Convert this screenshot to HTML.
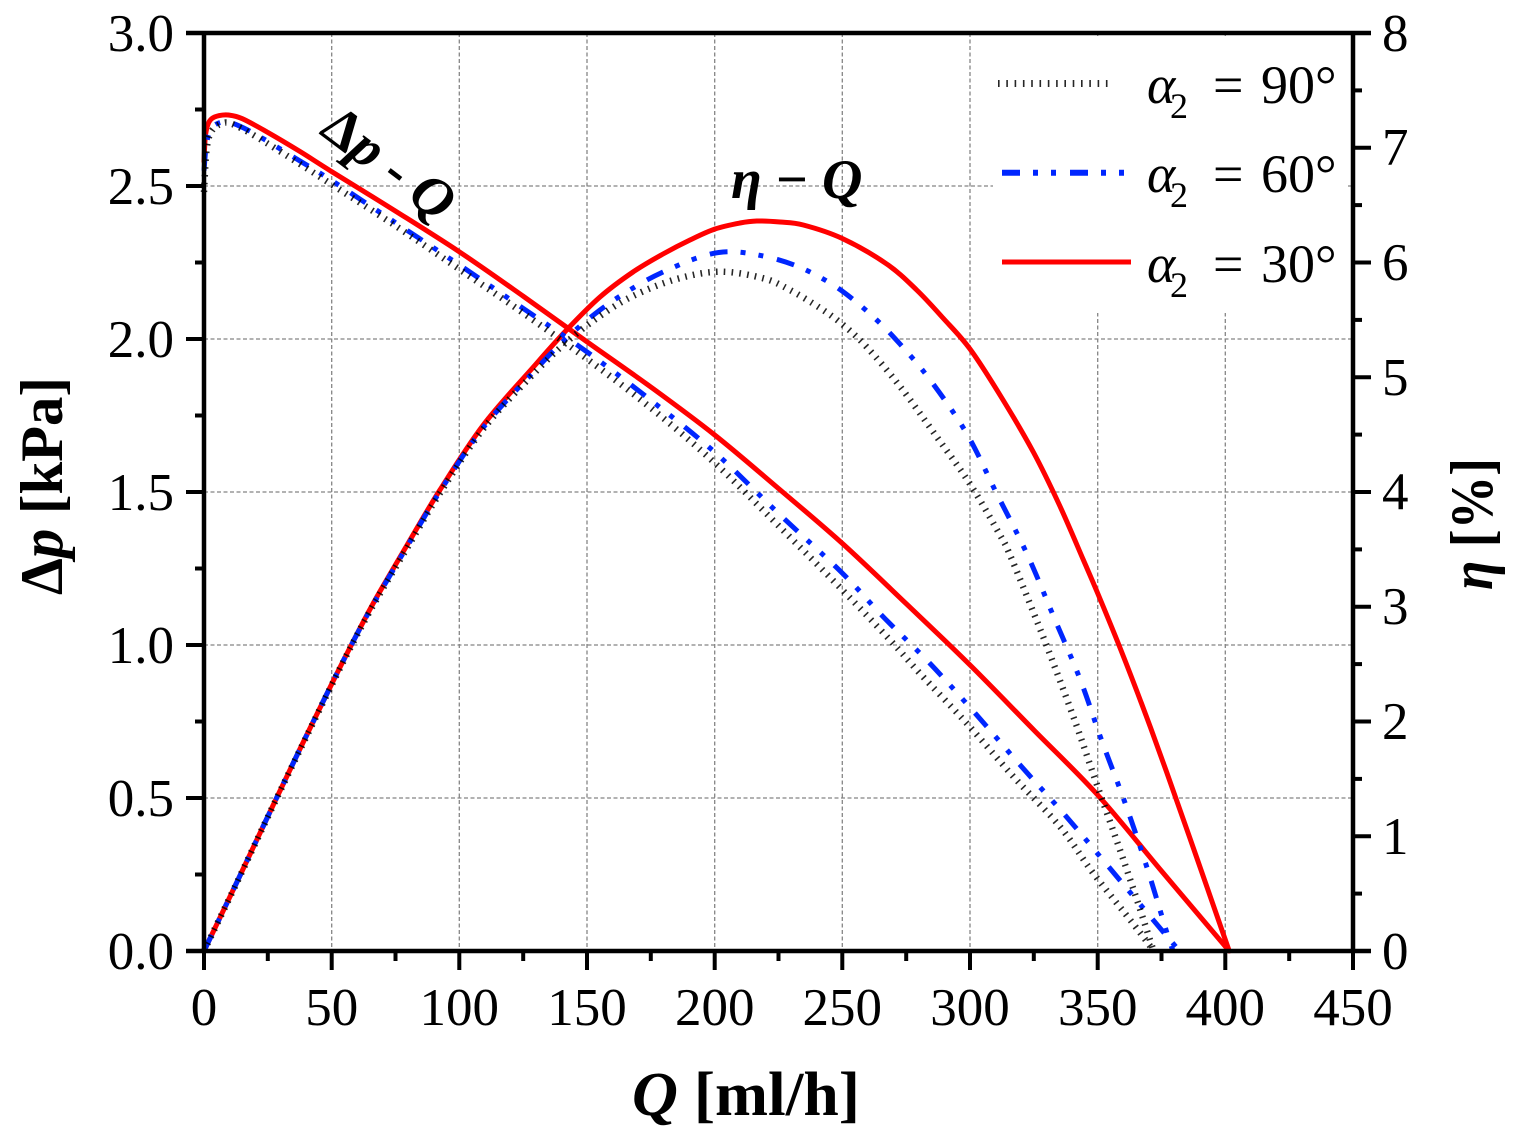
<!DOCTYPE html>
<html>
<head>
<meta charset="utf-8">
<style>
  html, body { margin: 0; padding: 0; background: #ffffff; }
  svg { display: block; }
  text { font-family: "Liberation Serif", "DejaVu Serif", serif; fill: #000; }
</style>
</head>
<body>
<svg width="1520" height="1136" viewBox="0 0 1520 1136" xmlns="http://www.w3.org/2000/svg">
  <rect x="0" y="0" width="1520" height="1136" fill="#ffffff"/>

  <g stroke="#858585" stroke-width="1.3" stroke-dasharray="4 2.5" fill="none">
    <line x1="331.7" y1="33" x2="331.7" y2="951"/>
    <line x1="459.3" y1="33" x2="459.3" y2="951"/>
    <line x1="587" y1="33" x2="587" y2="951"/>
    <line x1="714.7" y1="33" x2="714.7" y2="951"/>
    <line x1="842.3" y1="33" x2="842.3" y2="951"/>
    <line x1="970" y1="33" x2="970" y2="951"/>
    <line x1="1097.7" y1="33" x2="1097.7" y2="951"/>
    <line x1="1225.3" y1="33" x2="1225.3" y2="951"/>
    <line x1="204" y1="186" x2="1353" y2="186"/>
    <line x1="204" y1="339" x2="1353" y2="339"/>
    <line x1="204" y1="492" x2="1353" y2="492"/>
    <line x1="204" y1="645" x2="1353" y2="645"/>
    <line x1="204" y1="798" x2="1353" y2="798"/>
  </g>

  <rect x="993" y="36" width="355" height="277" fill="#ffffff"/>

  <g fill="none" stroke="#ff0000" stroke-width="5" stroke-linejoin="round" stroke-linecap="round">
    <polyline class="s" points="204,161.5 205.3,137 207.8,124.8 211.7,118.7 219.3,115.6 228.3,115 242.3,118.7 267.8,132.4 300,151.5 331.7,171.6 395.5,211.1 459.3,251.8 523.2,296.2 587,341.8 650.8,387 714.7,435 778.5,488.5 842.3,543.4 906.2,603.7 970,665 1033.8,730 1097.7,795 1161.5,871 1229.2,951"/>
    <polyline class="s" points="204,951 236,884 267.8,816.5 299.7,749.5 331.7,684 353.4,641 375.1,600 408.3,543 439.9,490 483.3,425 533.4,367 566.6,330 600,297 633,272 663,254 690,240 715,229 740,223 756.8,221 780,222 803.3,225 842.3,238.5 886.7,264 916.7,290 943,318 970,349 1000.6,396 1033.3,452 1059.4,505 1083.4,560 1097.7,593.3 1120.1,648 1143.6,709 1166.6,772 1197.2,859 1229.2,951"/>
  </g>

  <g fill="none" stroke="#0026ff" stroke-width="5" stroke-linejoin="round" stroke-dasharray="18 13 5 13 5 14">
    <polyline class="s" points="204,170.7 206.6,143.2 211.7,128 221.9,122 232.1,123 255.1,134 300,161 331.7,180.5 395.5,222.7 459.3,264.9 523.2,308.4 587,351.9 650.8,400.2 714.7,452.2 778.5,513.4 842.3,573.1 883.2,616.8 929.9,663.4 975.1,713.2 1020,764.9 1065,815.1 1108.4,866.5 1151.8,918.3 1179.4,951"/>
    <polyline class="s" points="204,951 236,884 267.8,816.5 299.7,749.5 331.7,684 353.4,641 375.1,601 408.3,544.5 439.9,491.5 483.3,427.5 533.4,372 566.6,338 600,310 633,288 663,272 700.1,257 728.5,251.7 763.3,256 796.7,266 826.7,281 850,297 876.7,320 900,344 930.2,380 966.7,433.5 996.5,493.1 1026.7,553.3 1053.7,616.7 1080,679 1101.5,740 1125.2,803.3 1146.7,866.7 1166.6,931.7 1173,951"/>
  </g>

  <g fill="none" stroke="#000000" stroke-width="6.5" stroke-linejoin="round" stroke-dasharray="1.6 6.2" stroke-opacity="0.85">
    <polyline class="s" points="204,192 206.6,149.3 211.7,131 221.9,123.5 232.1,124 255.1,136 300,164 331.7,184.5 395.5,225.8 459.3,269.2 523.2,313 587,358.9 650.8,407.9 714.7,462.9 778.5,525.7 842.3,589.9 890.1,640.1 920,673.5 966.7,723.3 1013.4,776.6 1060.1,826.8 1093.3,873.3 1133.4,924 1153.8,951"/>
    <polyline class="s" points="204,951 236,884.5 267.8,817 299.7,750.5 331.7,685 353.4,642 375.1,602 408.3,546 439.9,493.2 483.3,428.9 533.4,374 566.6,342 600,316 633,296 676.7,279 720,271.7 763.3,278.3 790,290 820,308 843.3,325 866.7,347 900,386.4 936.8,436.9 970,484 1000,535 1010,555 1033.3,612 1053.3,663 1076.7,726 1096.7,784 1120,850 1136.7,899 1150,940 1153.8,951"/>
  </g>

  <g stroke="#000" stroke-width="4.5" fill="none">
    <line x1="186" y1="33" x2="1371" y2="33"/>
    <line x1="186" y1="951" x2="1371" y2="951"/>
    <line x1="204" y1="31" x2="204" y2="953"/>
    <line x1="1353" y1="31" x2="1353" y2="953"/>
  </g>
  <g stroke="#000" stroke-width="4" fill="none">
    <line x1="204" y1="951" x2="204" y2="970"/>
    <line x1="331.7" y1="951" x2="331.7" y2="970"/>
    <line x1="459.3" y1="951" x2="459.3" y2="970"/>
    <line x1="587" y1="951" x2="587" y2="970"/>
    <line x1="714.7" y1="951" x2="714.7" y2="970"/>
    <line x1="842.3" y1="951" x2="842.3" y2="970"/>
    <line x1="970" y1="951" x2="970" y2="970"/>
    <line x1="1097.7" y1="951" x2="1097.7" y2="970"/>
    <line x1="1225.3" y1="951" x2="1225.3" y2="970"/>
    <line x1="1353" y1="951" x2="1353" y2="970"/>
    <line x1="267.8" y1="951" x2="267.8" y2="961"/>
    <line x1="395.5" y1="951" x2="395.5" y2="961"/>
    <line x1="523.2" y1="951" x2="523.2" y2="961"/>
    <line x1="650.8" y1="951" x2="650.8" y2="961"/>
    <line x1="778.5" y1="951" x2="778.5" y2="961"/>
    <line x1="906.2" y1="951" x2="906.2" y2="961"/>
    <line x1="1033.8" y1="951" x2="1033.8" y2="961"/>
    <line x1="1161.5" y1="951" x2="1161.5" y2="961"/>
    <line x1="1289.2" y1="951" x2="1289.2" y2="961"/>
    <line x1="186" y1="33" x2="204" y2="33"/>
    <line x1="186" y1="186" x2="204" y2="186"/>
    <line x1="186" y1="339" x2="204" y2="339"/>
    <line x1="186" y1="492" x2="204" y2="492"/>
    <line x1="186" y1="645" x2="204" y2="645"/>
    <line x1="186" y1="798" x2="204" y2="798"/>
    <line x1="186" y1="951" x2="204" y2="951"/>
    <line x1="195" y1="109.5" x2="204" y2="109.5"/>
    <line x1="195" y1="262.5" x2="204" y2="262.5"/>
    <line x1="195" y1="415.5" x2="204" y2="415.5"/>
    <line x1="195" y1="568.5" x2="204" y2="568.5"/>
    <line x1="195" y1="721.5" x2="204" y2="721.5"/>
    <line x1="195" y1="874.5" x2="204" y2="874.5"/>
    <line x1="1353" y1="33" x2="1371" y2="33"/>
    <line x1="1353" y1="147.75" x2="1371" y2="147.75"/>
    <line x1="1353" y1="262.5" x2="1371" y2="262.5"/>
    <line x1="1353" y1="377.25" x2="1371" y2="377.25"/>
    <line x1="1353" y1="492" x2="1371" y2="492"/>
    <line x1="1353" y1="606.75" x2="1371" y2="606.75"/>
    <line x1="1353" y1="721.5" x2="1371" y2="721.5"/>
    <line x1="1353" y1="836.25" x2="1371" y2="836.25"/>
    <line x1="1353" y1="951" x2="1371" y2="951"/>
    <line x1="1353" y1="90.4" x2="1362" y2="90.4"/>
    <line x1="1353" y1="205.1" x2="1362" y2="205.1"/>
    <line x1="1353" y1="319.9" x2="1362" y2="319.9"/>
    <line x1="1353" y1="434.6" x2="1362" y2="434.6"/>
    <line x1="1353" y1="549.4" x2="1362" y2="549.4"/>
    <line x1="1353" y1="664.1" x2="1362" y2="664.1"/>
    <line x1="1353" y1="778.9" x2="1362" y2="778.9"/>
    <line x1="1353" y1="893.6" x2="1362" y2="893.6"/>
  </g>

  <g font-size="53" text-anchor="end">
    <text x="174" y="51">3.0</text>
    <text x="174" y="204">2.5</text>
    <text x="174" y="357">2.0</text>
    <text x="174" y="510">1.5</text>
    <text x="174" y="663">1.0</text>
    <text x="174" y="816">0.5</text>
    <text x="174" y="969">0.0</text>
  </g>
  <g font-size="53" text-anchor="start">
    <text x="1382" y="51">8</text>
    <text x="1382" y="165">7</text>
    <text x="1382" y="280">6</text>
    <text x="1382" y="395">5</text>
    <text x="1382" y="509">4</text>
    <text x="1382" y="624">3</text>
    <text x="1382" y="739">2</text>
    <text x="1382" y="854">1</text>
    <text x="1382" y="969">0</text>
  </g>
  <g font-size="53" text-anchor="middle">
    <text x="204" y="1025">0</text>
    <text x="331.7" y="1025">50</text>
    <text x="459.3" y="1025">100</text>
    <text x="587" y="1025">150</text>
    <text x="714.7" y="1025">200</text>
    <text x="842.3" y="1025">250</text>
    <text x="970" y="1025">300</text>
    <text x="1097.7" y="1025">350</text>
    <text x="1225.3" y="1025">400</text>
    <text x="1353" y="1025">450</text>
  </g>

  <text x="632" y="1115" font-size="62" font-weight="bold" textLength="228" lengthAdjust="spacingAndGlyphs"><tspan font-style="italic">Q</tspan> [ml/h]</text>
  <text x="62" y="486" font-size="60" font-weight="bold" text-anchor="middle" transform="rotate(-90 62 486)" textLength="218" lengthAdjust="spacingAndGlyphs">Δ<tspan font-style="italic">p</tspan> [kPa]</text>
  <text x="1492" y="524" font-size="60" font-weight="bold" text-anchor="middle" transform="rotate(-90 1492 524)" textLength="132" lengthAdjust="spacingAndGlyphs"><tspan font-style="italic">η</tspan> [%]</text>

  <text transform="translate(318,133) rotate(37)" font-size="56" font-weight="bold">Δ<tspan font-style="italic">p</tspan> - <tspan font-style="italic">Q</tspan></text>
  <text x="731" y="198" font-size="56" font-weight="bold" font-style="italic">η</text>
  <text x="776" y="198" font-size="56" font-weight="bold">−</text>
  <text x="822" y="198" font-size="56" font-weight="bold" font-style="italic">Q</text>

  <line x1="998" y1="83.5" x2="1114" y2="83.5" stroke="#000" stroke-opacity="0.85" stroke-width="7" stroke-dasharray="1.6 6.7"/>
  <line x1="1002" y1="172.7" x2="1124" y2="172.7" stroke="#0026ff" stroke-width="6" stroke-dasharray="18 13 5 13 5 14"/>
  <line x1="1002" y1="262" x2="1131" y2="262" stroke="#ff0000" stroke-width="5"/>

  <g font-size="54">
    <text x="1147" y="103" font-style="italic">α</text>
    <text x="1170" y="118" font-size="36">2</text>
    <text x="1213" y="103">=</text>
    <text x="1261" y="103">90°</text>
    <text x="1147" y="192" font-style="italic">α</text>
    <text x="1170" y="207" font-size="36">2</text>
    <text x="1213" y="192">=</text>
    <text x="1261" y="192">60°</text>
    <text x="1147" y="282" font-style="italic">α</text>
    <text x="1170" y="297" font-size="36">2</text>
    <text x="1213" y="282">=</text>
    <text x="1261" y="282">30°</text>
  </g>
</svg>
<script>
(function(){
  var ns = "http://www.w3.org/2000/svg";
  var pls = document.querySelectorAll("polyline.s");
  for (var k = 0; k < pls.length; k++) {
    var pl = pls[k];
    var raw = pl.getAttribute("points").trim().split(/\s+/);
    var p = [];
    for (var j = 0; j < raw.length; j++) {
      var a = raw[j].split(",");
      p.push([parseFloat(a[0]), parseFloat(a[1])]);
    }
    var d = "M" + p[0][0] + "," + p[0][1];
    for (var i = 0; i < p.length - 1; i++) {
      var p0 = p[i > 0 ? i - 1 : i], p1 = p[i], p2 = p[i + 1], p3 = p[i + 2 < p.length ? i + 2 : i + 1];
      var c1x = p1[0] + (p2[0] - p0[0]) / 6, c1y = p1[1] + (p2[1] - p0[1]) / 6;
      var c2x = p2[0] - (p3[0] - p1[0]) / 6, c2y = p2[1] - (p3[1] - p1[1]) / 6;
      d += " C" + c1x.toFixed(2) + "," + c1y.toFixed(2) + " " + c2x.toFixed(2) + "," + c2y.toFixed(2) + " " + p2[0] + "," + p2[1];
    }
    var path = document.createElementNS(ns, "path");
    path.setAttribute("d", d);
    pl.parentNode.replaceChild(path, pl);
  }
})();
</script>
</body>
</html>
